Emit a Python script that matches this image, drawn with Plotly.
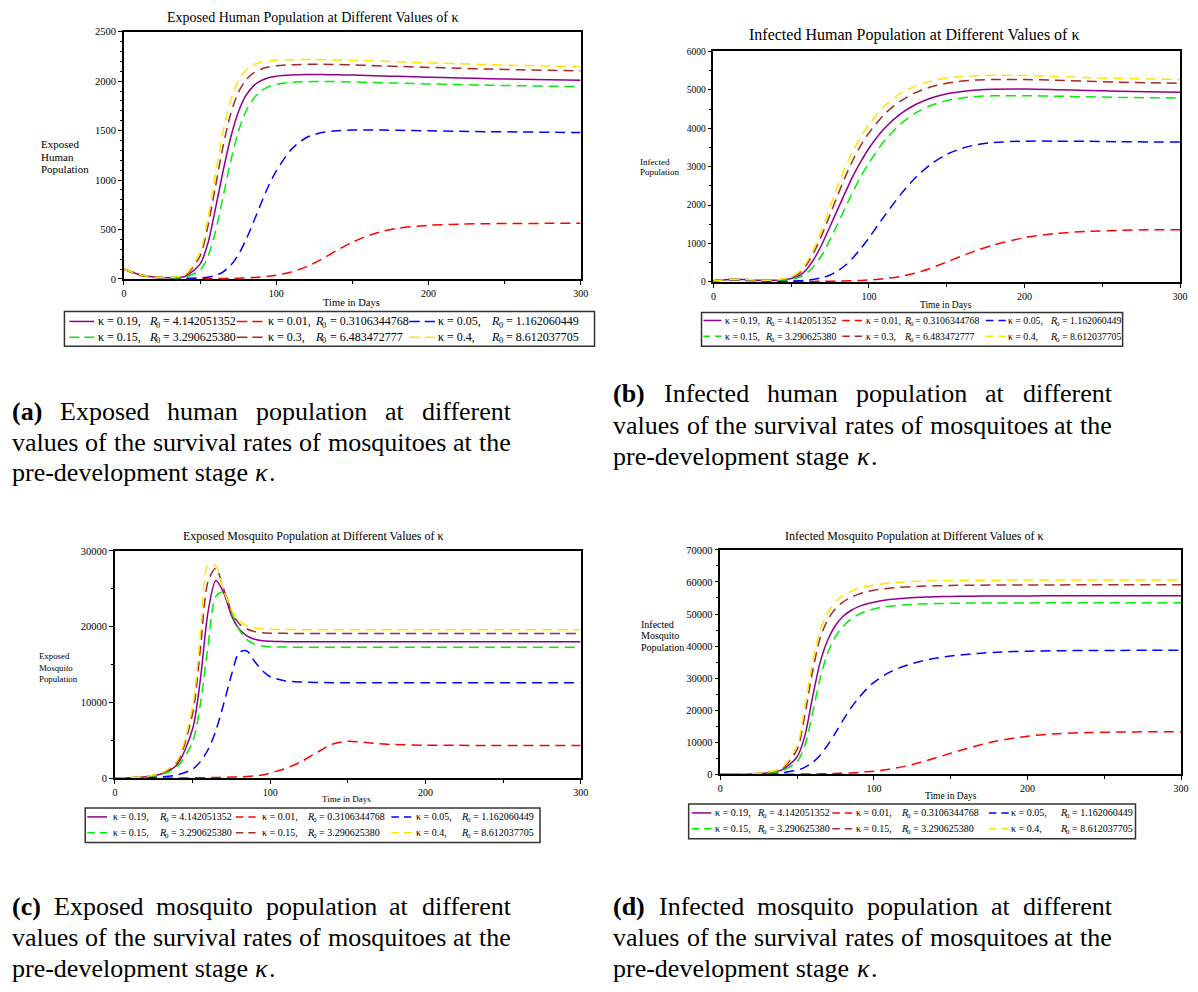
import plotly.graph_objects as go

W, H = 1198, 992
SERIF = "Liberation Serif, Times New Roman, serif"
DASH = "10px,6px"
PAD = 3  # annotation text sits a few px right of its anchor

# ---------------------------------------------------------------- data
days = [0, 10, 20, 30, 40, 50, 55, 60, 65, 70, 75, 80, 85, 90, 95, 100,
        110, 120, 130, 140, 150, 160, 170, 180, 200, 220, 240, 260, 280, 300]

# exposed human population
eh_019 = [100, 45, 20, 12, 25, 150, 350, 700, 1080, 1420, 1680, 1850, 1950, 2005, 2035,
          2050, 2062, 2066, 2066, 2064, 2061, 2057, 2053, 2049, 2040, 2032, 2025, 2019, 2013, 2008]
eh_001 = [100, 38, 14, 5, 3, 3, 3, 4, 5, 6, 8, 10, 14, 19, 27,
          38, 70, 125, 200, 290, 370, 435, 482, 512, 542, 554, 559, 561, 562, 562]
eh_005 = [100, 42, 17, 8, 6, 10, 18, 35, 70, 135, 240, 390, 570, 760, 940,
          1090, 1310, 1430, 1480, 1498, 1505, 1506, 1505, 1503, 1498, 1493, 1489, 1486, 1483, 1480]
eh_015 = [100, 45, 20, 11, 18, 90, 220, 470, 820, 1180, 1480, 1690, 1820, 1900, 1945,
          1968, 1988, 1994, 1996, 1995, 1992, 1988, 1984, 1980, 1972, 1965, 1959, 1954, 1949, 1945]
eh_030 = [100, 45, 20, 13, 35, 230, 520, 920, 1330, 1660, 1880, 2010, 2080, 2120, 2142,
          2155, 2166, 2170, 2170, 2168, 2164, 2159, 2154, 2149, 2139, 2130, 2122, 2115, 2109, 2104]
eh_040 = [100, 45, 20, 13, 40, 270, 600, 1050, 1480, 1800, 2000, 2110, 2165, 2192, 2205,
          2212, 2217, 2218, 2217, 2214, 2210, 2205, 2200, 2195, 2185, 2176, 2167, 2159, 2152, 2146]

# infected human population
ih_019 = [30, 60, 60, 45, 45, 90, 160, 330, 620, 1000, 1450, 1900, 2350, 2780, 3150,
          3480, 4000, 4370, 4620, 4790, 4900, 4960, 5000, 5015, 5020, 5005, 4985, 4965, 4950, 4940]
ih_001 = [30, 50, 40, 25, 15, 12, 12, 12, 13, 15, 17, 20, 24, 30, 38,
          50, 85, 140, 230, 360, 520, 680, 830, 960, 1150, 1260, 1315, 1340, 1355, 1360]
ih_005 = [30, 55, 50, 35, 25, 25, 30, 45, 70, 110, 180, 290, 440, 640, 880,
          1150, 1720, 2260, 2720, 3070, 3320, 3480, 3580, 3630, 3665, 3665, 3660, 3652, 3645, 3640]
ih_015 = [30, 60, 60, 45, 42, 70, 120, 230, 430, 720, 1100, 1520, 1950, 2380, 2760,
          3100, 3680, 4100, 4400, 4600, 4720, 4790, 4830, 4845, 4850, 4835, 4820, 4805, 4795, 4790]
ih_030 = [30, 60, 60, 45, 48, 115, 220, 450, 800, 1250, 1750, 2270, 2760, 3200, 3570,
          3880, 4370, 4700, 4930, 5080, 5170, 5230, 5260, 5270, 5270, 5250, 5225, 5200, 5185, 5170]
ih_040 = [30, 60, 60, 45, 50, 130, 260, 520, 900, 1400, 1950, 2500, 3000, 3430, 3800,
          4100, 4580, 4900, 5100, 5230, 5310, 5350, 5370, 5380, 5375, 5350, 5320, 5300, 5285, 5270]

# exposed mosquito population
em_019 = [0, 70, 220, 600, 1800, 6500, 13000, 22000, 26100, 24500, 21500, 19700, 18800, 18350, 18150,
          18070, 18030, 18010, 18000, 18000, 18000, 18000, 18000, 18000, 18000, 18000, 18000, 18000, 18000, 18000]
em_001 = [0, 20, 35, 45, 50, 60, 70, 85, 105, 130, 160, 200, 250, 320, 450,
          700, 1300, 2200, 3400, 4500, 4880, 4750, 4560, 4450, 4370, 4350, 4340, 4340, 4340, 4340]
em_005 = [0, 40, 100, 200, 450, 1200, 2200, 3800, 6300, 9800, 13600, 16600, 16800, 15400, 14200,
          13400, 12850, 12700, 12650, 12620, 12610, 12600, 12600, 12600, 12600, 12600, 12600, 12600, 12600, 12600]
em_015 = [0, 60, 200, 500, 1500, 4800, 9800, 17500, 24000, 24600, 22000, 19600, 18300, 17700, 17450,
          17350, 17310, 17300, 17300, 17300, 17300, 17300, 17300, 17300, 17300, 17300, 17300, 17300, 17300, 17300]
em_030 = [0, 80, 240, 650, 2100, 8500, 17000, 26000, 27700, 25000, 22000, 20400, 19700, 19350, 19200,
          19150, 19120, 19110, 19100, 19100, 19100, 19100, 19100, 19100, 19100, 19100, 19100, 19100, 19100, 19100]
em_040 = [0, 80, 250, 700, 2300, 9500, 19000, 28200, 28000, 24800, 22200, 20800, 20100, 19830, 19700,
          19650, 19620, 19610, 19600, 19600, 19600, 19600, 19600, 19600, 19600, 19600, 19600, 19600, 19600, 19600]

# infected mosquito population
im_019 = [0, 50, 150, 450, 1400, 5500, 12000, 24000, 35000, 42000, 46500, 49300, 51100, 52300, 53100,
          53700, 54500, 54950, 55200, 55380, 55480, 55550, 55600, 55630, 55660, 55680, 55690, 55700, 55700, 55700]
im_001 = [0, 10, 20, 30, 50, 80, 100, 130, 170, 220, 280, 360, 460, 600, 780,
          1000, 1600, 2500, 3700, 5100, 6600, 8000, 9300, 10400, 11900, 12700, 13050, 13200, 13270, 13300]
im_005 = [0, 30, 80, 200, 500, 1300, 2200, 3700, 6000, 9200, 13000, 17000, 20700, 23800, 26500,
          28700, 31800, 33800, 35200, 36200, 36900, 37400, 37800, 38100, 38400, 38550, 38620, 38660, 38690, 38700]
im_015 = [0, 45, 130, 380, 1100, 4000, 9000, 19000, 30000, 38000, 43000, 46200, 48400, 49900, 50900,
          51600, 52400, 52850, 53100, 53250, 53340, 53400, 53430, 53450, 53470, 53490, 53500, 53500, 53500, 53500]
im_030 = [0, 55, 170, 550, 1800, 7800, 18500, 32000, 42500, 48300, 51700, 53800, 55200, 56200, 56900,
          57400, 58050, 58420, 58650, 58800, 58900, 58970, 59010, 59040, 59070, 59090, 59100, 59100, 59100, 59100]
im_040 = [0, 60, 180, 600, 2000, 9000, 21000, 35000, 45000, 50500, 53800, 55800, 57100, 58000, 58600,
          59050, 59650, 60000, 60230, 60370, 60460, 60510, 60540, 60560, 60580, 60590, 60600, 60600, 60600, 60600]

kappa_ab = ["κ = 0.19,", "κ = 0.01,", "κ = 0.05,", "κ = 0.15,", "κ = 0.3,", "κ = 0.4,"]
r0_ab = ["4.142051352", "0.3106344768", "1.162060449", "3.290625380", "6.483472777", "8.612037705"]
kappa_cd = ["κ = 0.19,", "κ = 0.01,", "κ = 0.05,", "κ = 0.15,", "κ = 0.15,", "κ = 0.4,"]
r0_cd = ["4.142051352", "0.3106344768", "1.162060449", "3.290625380", "3.290625380", "8.612037705"]

x_ticks = [0, 100, 200, 300]

# ---------------------------------------------------------------- styles
colors = ["#900090", "#FF0000", "#0000FF", "#00EE00", "#A52A2A", "#FFE600"]
dashes = ["solid", DASH, DASH, DASH, DASH, DASH]


def fx(x):
    return x / W


def fy(y):
    return 1 - y / H


def ann(text, x, y, size, xanchor="left", yanchor="middle", style="normal", weight="normal"):
    if xanchor == "left":
        x -= PAD
    return dict(text=text, x=fx(x), y=fy(y), xref="paper", yref="paper",
                xanchor=xanchor, yanchor=yanchor, showarrow=False,
                font=dict(family=SERIF, size=size, color="black", style=style, weight=weight))


panels = [
    dict(series=[eh_019, eh_001, eh_005, eh_015, eh_030, eh_040],
         frame=(122, 27, 583, 277), ymax=2500, ydt=500, yminor=100, yfont=10.5,
         title="Exposed Human Population at Different Values of κ", tpos=(313, 13), tsize=14,
         ylab=["Exposed", "Human", "Population"], ylx=39, yly=141, ylstep=12.2, ylsize=11,
         xtitle=(352, 301, 10.5),
         legend=dict(box=(62, 310, 597, 345), rows=(320, 336),
                     cols=[(67, 92, 97, 148), (236, 262, 268, 316), (410, 436, 440, 494)], size=12),
         kap=kappa_ab, r0=r0_ab),
    dict(series=[ih_019, ih_001, ih_005, ih_015, ih_030, ih_040],
         frame=(717, 47, 1188, 280), ymax=6000, ydt=1000, yminor=500, yfont=9.5,
         title="Infected Human Population at Different Values of κ", tpos=(920, 30), tsize=16,
         ylab=["Infected", "Population"], ylx=644, yly=159, ylstep=10.3, ylsize=9,
         xtitle=(952, 303, 9.5),
         legend=dict(box=(705, 311, 1130, 345), rows=(319, 335),
                     cols=[(707, 725, 730, 770), (847, 867, 872, 910), (992, 1012, 1015, 1058)], size=9.8),
         kap=kappa_ab, r0=r0_ab),
    dict(series=[em_019, em_001, em_005, em_015, em_030, em_040],
         frame=(113, 552, 583, 782), ymax=30000, ydt=10000, yminor=5000, yfont=10.5,
         title="Exposed Mosquito Population at Different Values of κ", tpos=(313, 537), tsize=12,
         ylab=["Exposed", "Mosquito", "Population"], ylx=37, yly=658, ylstep=12, ylsize=8.8,
         xtitle=(347, 803, 9),
         legend=dict(box=(83, 812, 542, 847), rows=(821, 837),
                     cols=[(85, 105, 112, 158), (235, 255, 262, 308), (392, 412, 418, 463)], size=10),
         kap=kappa_cd, r0=r0_cd),
    dict(series=[im_019, im_001, im_005, im_015, im_030, im_040],
         frame=(724, 551, 1189, 778), ymax=70000, ydt=10000, yminor=5000, yfont=10.5,
         title="Infected Mosquito Population at Different Values of κ", tpos=(920, 537), tsize=12,
         ylab=["Infected", "Mosquito", "Population"], ylx=645, yly=626, ylstep=12, ylsize=10,
         xtitle=(957, 800, 9.5),
         legend=dict(box=(692, 808, 1143, 843), rows=(817, 833),
                     cols=[(695, 715, 720, 762), (837, 857, 862, 907), (995, 1015, 1018, 1068)], size=10),
         kap=kappa_cd, r0=r0_cd),
]

fig = go.Figure()
annotations = []
shapes = []
layout_axes = {}


def add_r0_label(x, y, value, size):
    """Italic R with a subscript 0, followed by '= value'."""
    annotations.append(ann("R", x, y, size, style="italic"))
    x_sub = x + 0.611 * size
    annotations.append(ann("0", x_sub, y + 0.3 * size, size * 0.7))
    x_eq = x_sub + 0.35 * size + 0.25 * size
    annotations.append(ann("= " + value, x_eq, y, size))


def sample_dash(length, style):
    """Two dashes with one gap across a legend key of the given length."""
    if style == "solid":
        return "solid"
    gap = 5
    d = (length - gap) / 2.0
    return "%.1fpx,%dpx" % (d, gap)


for i, p in enumerate(panels):
    n = "" if i == 0 else str(i + 1)
    xa, ya = "x" + n, "y" + n
    for s, vals in enumerate(p["series"]):
        fig.add_trace(go.Scatter(
            x=days, y=vals, xaxis=xa, yaxis=ya, mode="lines",
            line=dict(color=colors[s], width=1.5, dash=dashes[s], shape="spline", smoothing=0.8),
            name=p["kap"][s] + " R0 = " + p["r0"][s], showlegend=False, hoverinfo="skip"))

    x0, y0, x1, y1 = p["frame"]
    axis_common = dict(showline=True, linecolor="black", linewidth=1.5, mirror=True,
                       showgrid=False, zeroline=False, ticks="outside", tickcolor="black",
                       tickwidth=1, ticklen=4, fixedrange=True, tickformat="d")
    layout_axes["xaxis" + n] = dict(
        axis_common, domain=[fx(x0), fx(x1)], anchor=ya, range=[0, 300],
        tickmode="array", tickvals=x_ticks,
        minor=dict(dtick=50, tick0=0, ticks="outside", ticklen=3, tickcolor="black"),
        tickfont=dict(family=SERIF, size=10, color="black"))
    layout_axes["yaxis" + n] = dict(
        axis_common, domain=[fy(y1), fy(y0)], anchor=xa, range=[0, p["ymax"]],
        tickmode="linear", tick0=0, dtick=p["ydt"],
        minor=dict(dtick=p["yminor"], tick0=0, ticks="outside", ticklen=2.5, tickcolor="black"),
        tickfont=dict(family=SERIF, size=p["yfont"], color="black"))

    # title, axis labels
    annotations.append(ann(p["title"], p["tpos"][0], p["tpos"][1], p["tsize"], xanchor="center"))
    for k, word in enumerate(p["ylab"]):
        annotations.append(ann(word, p["ylx"], p["yly"] + k * p["ylstep"], p["ylsize"]))
    tx, ty, ts = p["xtitle"]
    annotations.append(ann("Time in Days", tx, ty, ts, xanchor="center"))

    # legend box with line samples
    lg = p["legend"]
    bx0, by0, bx1, by1 = lg["box"]
    shapes.append(dict(type="rect", xref="paper", yref="paper",
                       x0=fx(bx0), x1=fx(bx1), y0=fy(by1), y1=fy(by0),
                       line=dict(color="#333333", width=1.5), fillcolor="rgba(0,0,0,0)"))
    for r, ry in enumerate(lg["rows"]):
        for c, (lx0, lx1, kx, rx) in enumerate(lg["cols"]):
            s = r * 3 + c
            shapes.append(dict(type="line", xref="paper", yref="paper",
                               x0=fx(lx0), x1=fx(lx1), y0=fy(ry), y1=fy(ry),
                               line=dict(color=colors[s], width=1.5,
                                         dash=sample_dash(lx1 - lx0, dashes[s]))))
            annotations.append(ann(p["kap"][s], kx, ry, lg["size"]))
            add_r0_label(rx, ry, p["r0"][s], lg["size"])

# ---------------------------------------------------------------- captions
REG = {" ": 250, "(": 333, ")": 333, "-": 333, ".": 250, "a": 444, "b": 500, "c": 444,
       "d": 500, "e": 444, "f": 333, "g": 500, "h": 500, "i": 278, "j": 278, "k": 500,
       "l": 278, "m": 778, "n": 500, "o": 500, "p": 500, "q": 500, "r": 333, "s": 389,
       "t": 278, "u": 500, "v": 500, "w": 722, "x": 500, "y": 500, "z": 444, "E": 611,
       "I": 333}
BOLD = {"(": 333, ")": 333, "a": 500, "b": 556, "c": 444, "d": 556}
CAP_SIZE = 26


def word_width(word, size, bold=False):
    table = BOLD if bold else REG
    return sum(table.get(ch, 500) for ch in word) * size / 1000.0


def justified(words, x0, x1, y, bold_first=False):
    widths = [word_width(w, CAP_SIZE, bold_first and j == 0) for j, w in enumerate(words)]
    gap = (x1 - x0 - sum(widths)) / (len(words) - 1)
    x = x0
    for j, w in enumerate(words):
        annotations.append(ann(w, x, y, CAP_SIZE,
                               weight="bold" if (bold_first and j == 0) else "normal"))
        x += widths[j] + gap


captions = [
    ("(a)", "Exposed human population at different", 10, 513, (411, 442, 473)),
    ("(b)", "Infected human population at different", 617, 1120, (393, 425, 457)),
    ("(c)", "Exposed mosquito population at different", 10, 513, (912, 943, 974)),
    ("(d)", "Infected mosquito population at different", 617, 1120, (912, 943, 974)),
]
last_line = "pre-development stage "
for tag, line1, cx0, cx1, ys in captions:
    justified([tag] + line1.split(), cx0, cx1, ys[0], bold_first=True)
    justified("values of the survival rates of mosquitoes at the".split(), cx0, cx1, ys[1])
    annotations.append(ann(last_line.strip(), cx0, ys[2], CAP_SIZE))
    xk = cx0 + word_width(last_line, CAP_SIZE) + 3
    annotations.append(ann("κ", xk, ys[2], CAP_SIZE, style="italic"))
    annotations.append(ann(".", xk + 0.55 * CAP_SIZE, ys[2], CAP_SIZE))

fig.update_layout(
    width=W, height=H, autosize=False,
    margin=dict(l=0, r=0, t=0, b=0, pad=0),
    paper_bgcolor="white", plot_bgcolor="white",
    showlegend=False,
    annotations=annotations, shapes=shapes,
    **layout_axes)

fig.write_html("out.html", config={"displayModeBar": False})
